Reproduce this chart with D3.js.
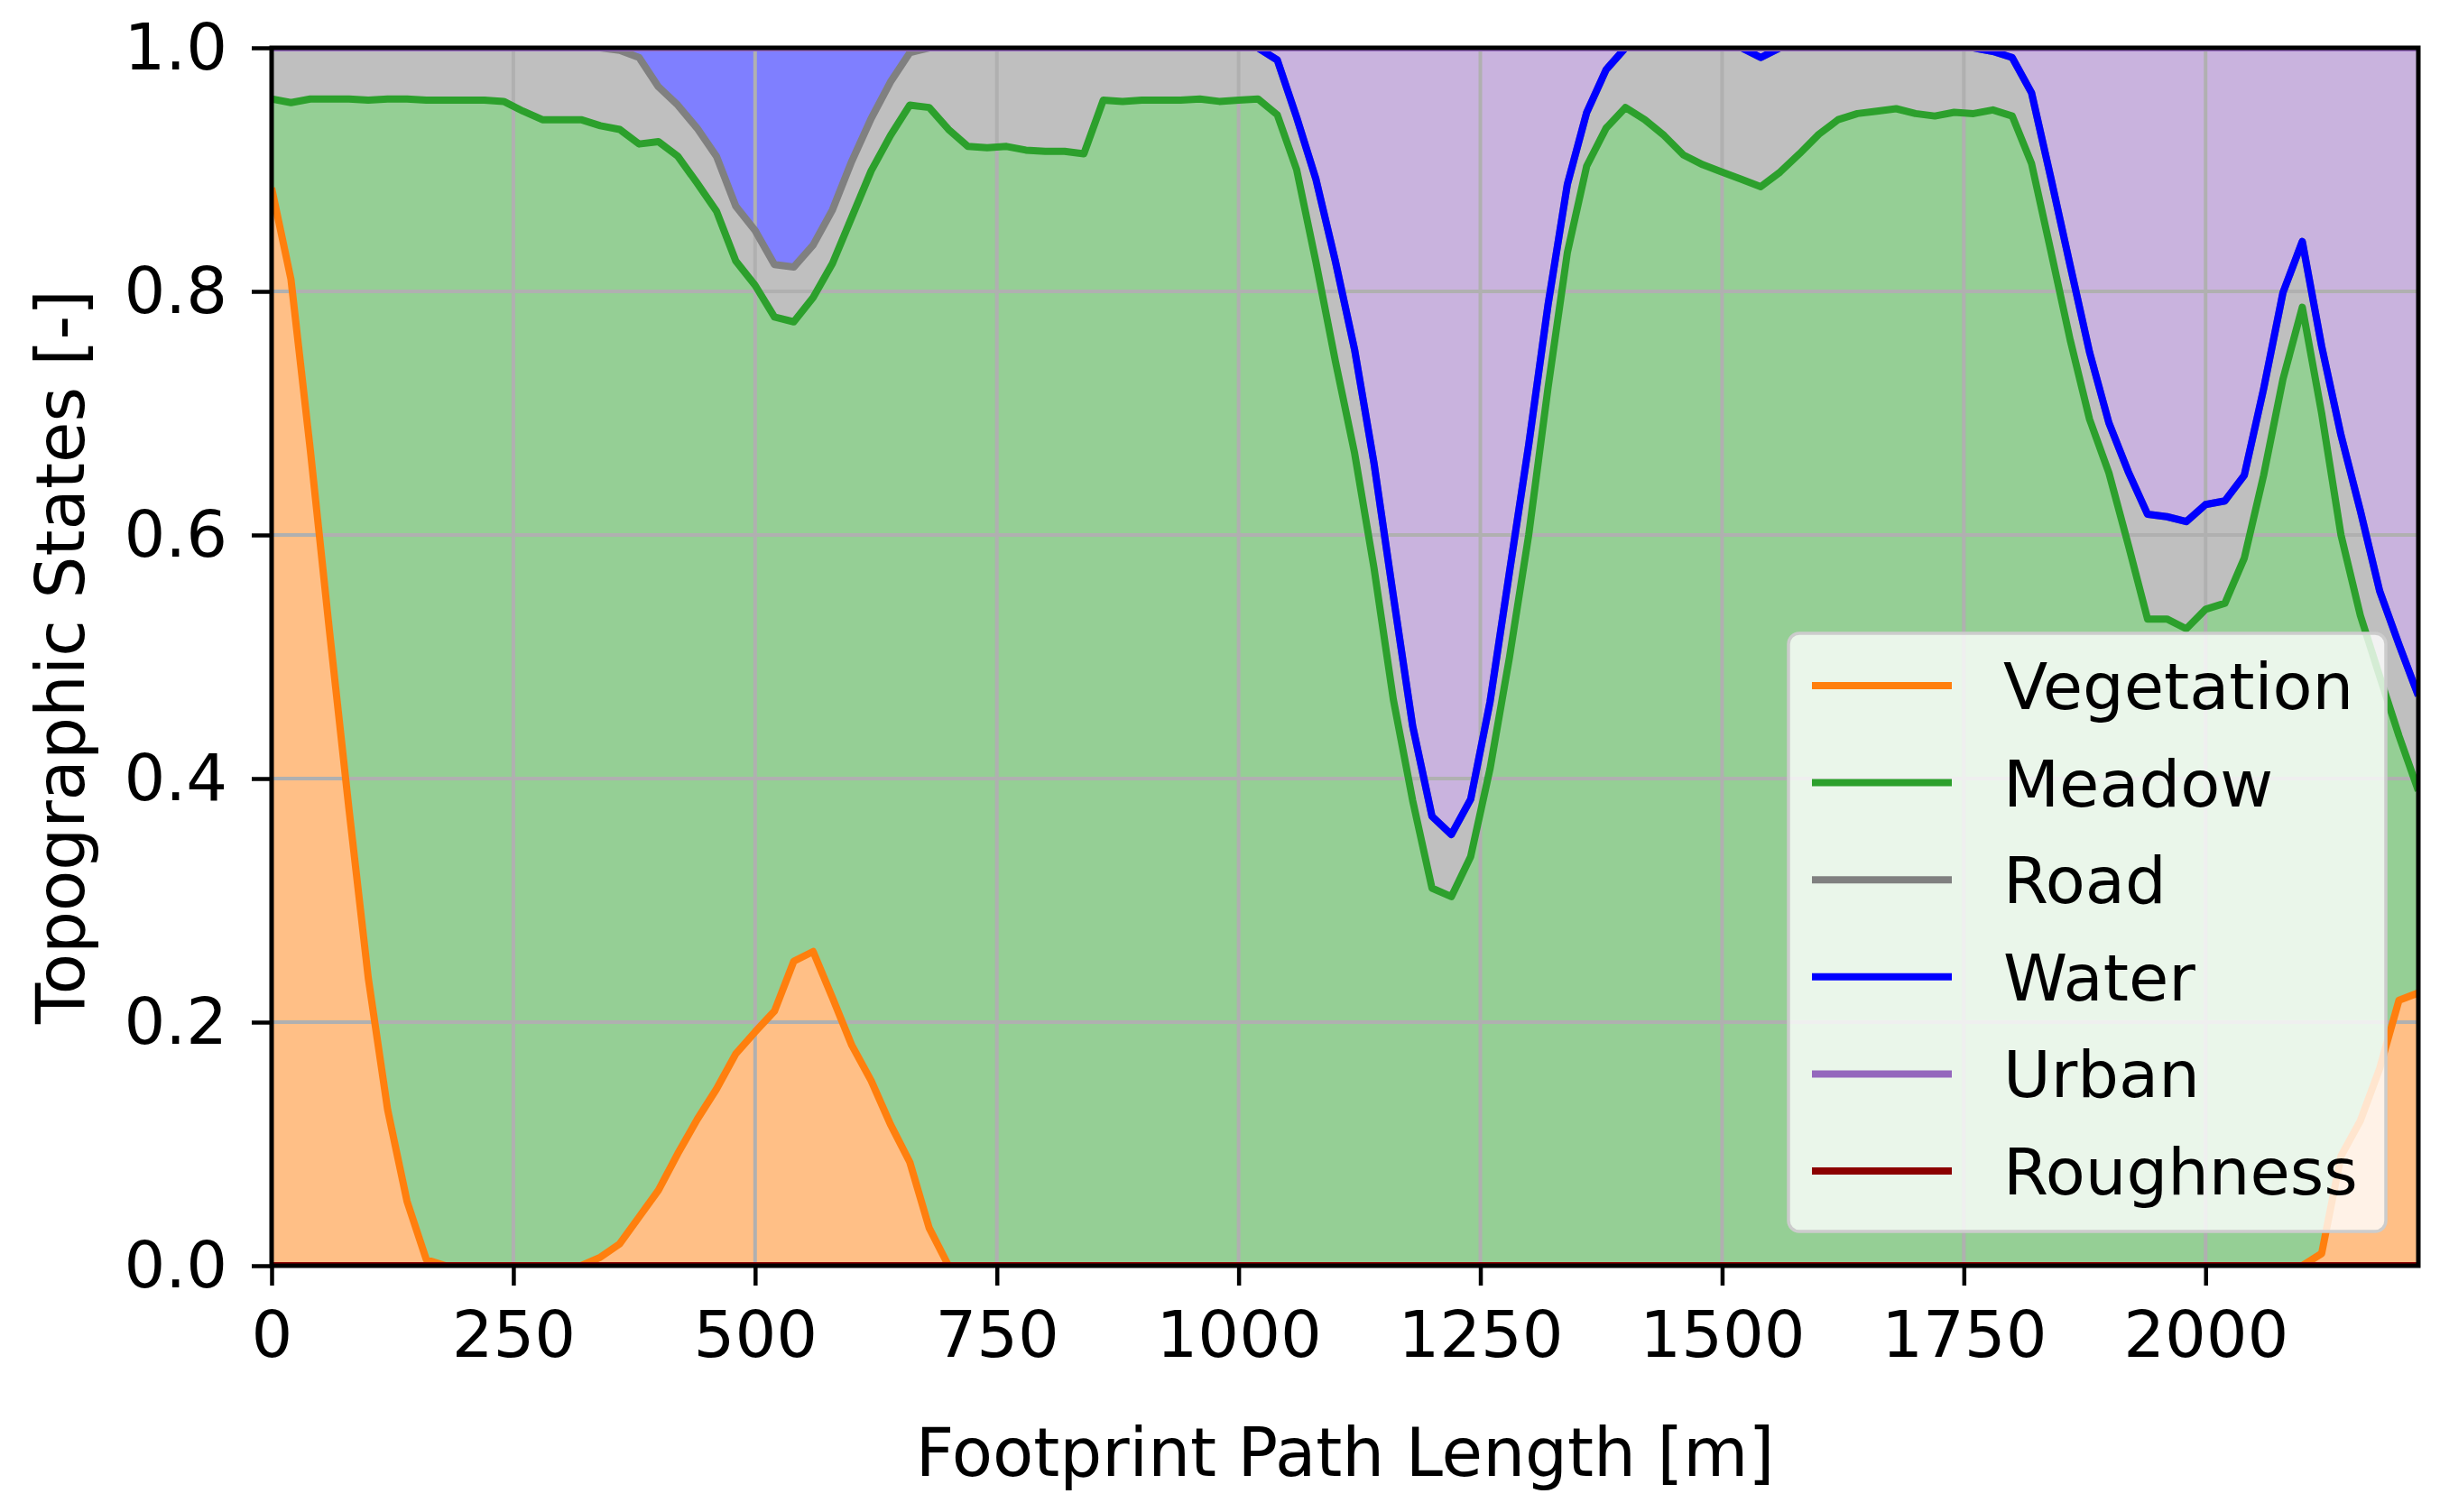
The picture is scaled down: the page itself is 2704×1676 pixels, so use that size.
<!DOCTYPE html>
<html lang="en">
<head>
<meta charset="UTF-8">
<title>Topographic States</title>
<script src="https://d3js.org/d3.v7.min.js"></script>
<style>
  body { margin: 0; background: #ffffff; }
  svg { display: block; font-family: "DejaVu Sans", sans-serif; }
</style>
</head>
<body>
<svg id="chart"></svg>
<script>
// distance along the footprint path [m]
var distance = [0, 20, 40, 60, 80, 100, 120, 140, 160, 180, 200, 220, 240, 260, 280, 300, 320, 340, 360, 380,
  400, 420, 440, 460, 480, 500, 520, 540, 560, 580, 600, 620, 640, 660, 680, 700, 720, 740, 760, 780,
  800, 820, 840, 860, 880, 900, 920, 940, 960, 980, 1000, 1020, 1040, 1060, 1080, 1100, 1120, 1140, 1160, 1180,
  1200, 1220, 1240, 1260, 1280, 1300, 1320, 1340, 1360, 1380, 1400, 1420, 1440, 1460, 1480, 1500, 1520, 1540, 1560, 1580,
  1600, 1620, 1640, 1660, 1680, 1700, 1720, 1740, 1760, 1780, 1800, 1820, 1840, 1860, 1880, 1900, 1920, 1940, 1960, 1980,
  2000, 2020, 2040, 2060, 2080, 2100, 2120, 2140, 2160, 2180, 2200, 2220];

// fraction of each topographic state (stacked in this order)
var roughness = [0, 0, 0, 0, 0, 0, 0, 0, 0, 0, 0, 0, 0, 0, 0, 0, 0, 0, 0, 0,
  0, 0, 0, 0, 0, 0, 0, 0, 0, 0, 0, 0, 0, 0, 0, 0, 0, 0, 0, 0,
  0, 0, 0, 0, 0, 0, 0, 0, 0, 0, 0, 0, 0, 0, 0, 0, 0, 0, 0, 0,
  0, 0, 0, 0, 0, 0, 0, 0, 0, 0, 0, 0, 0, 0, 0, 0, 0, 0, 0, 0,
  0, 0, 0, 0, 0, 0, 0, 0, 0, 0, 0, 0, 0, 0, 0, 0, 0, 0, 0, 0,
  0, 0, 0, 0, 0, 0, 0, 0, 0, 0, 0, 0];
var vegetation = [0.885, 0.810, 0.670, 0.520, 0.375, 0.236, 0.128, 0.053, 0.005, 0, 0, 0, 0, 0, 0, 0, 0, 0.007, 0.018, 0.040,
  0.062, 0.092, 0.120, 0.145, 0.174, 0.192, 0.209, 0.250, 0.258, 0.220, 0.181, 0.152, 0.116, 0.085, 0.031, 0, 0, 0, 0, 0,
  0, 0, 0, 0, 0, 0, 0, 0, 0, 0, 0, 0, 0, 0, 0, 0, 0, 0, 0, 0,
  0, 0, 0, 0, 0, 0, 0, 0, 0, 0, 0, 0, 0, 0, 0, 0, 0, 0, 0, 0,
  0, 0, 0, 0, 0, 0, 0, 0, 0, 0, 0, 0, 0, 0, 0, 0, 0, 0, 0, 0,
  0, 0, 0, 0, 0, 0, 0.010, 0.090, 0.119, 0.162, 0.218, 0.224];
var meadow = [0.073, 0.145, 0.288, 0.438, 0.583, 0.721, 0.830, 0.905, 0.952, 0.957, 0.957, 0.957, 0.956, 0.948, 0.941, 0.941, 0.941, 0.929, 0.915, 0.881,
  0.861, 0.819, 0.769, 0.721, 0.651, 0.613, 0.570, 0.525, 0.537, 0.603, 0.680, 0.747, 0.812, 0.868, 0.920, 0.933, 0.919, 0.918, 0.919, 0.916,
  0.915, 0.915, 0.913, 0.957, 0.956, 0.957, 0.957, 0.957, 0.958, 0.956, 0.957, 0.958, 0.945, 0.900, 0.824, 0.743, 0.667, 0.573, 0.465, 0.382,
  0.310, 0.303, 0.336, 0.408, 0.499, 0.600, 0.721, 0.832, 0.903, 0.934, 0.951, 0.941, 0.928, 0.912, 0.904, 0.898, 0.892, 0.886, 0.898, 0.913,
  0.929, 0.941, 0.946, 0.948, 0.950, 0.946, 0.944, 0.947, 0.946, 0.949, 0.944, 0.905, 0.833, 0.760, 0.695, 0.651, 0.592, 0.531, 0.531, 0.523,
  0.539, 0.544, 0.581, 0.649, 0.728, 0.787, 0.690, 0.510, 0.415, 0.322, 0.217, 0.166];
var road = [0.042, 0.045, 0.042, 0.042, 0.042, 0.043, 0.042, 0.042, 0.043, 0.043, 0.043, 0.043, 0.044, 0.052, 0.059, 0.059, 0.059, 0.064, 0.065, 0.071,
  0.045, 0.042, 0.045, 0.045, 0.045, 0.045, 0.043, 0.045, 0.043, 0.044, 0.046, 0.043, 0.044, 0.043, 0.049, 0.067, 0.081, 0.082, 0.081, 0.084,
  0.085, 0.085, 0.087, 0.043, 0.044, 0.043, 0.043, 0.043, 0.042, 0.044, 0.043, 0.042, 0.045, 0.043, 0.068, 0.082, 0.085, 0.086, 0.085, 0.061,
  0.059, 0.051, 0.047, 0.055, 0.070, 0.074, 0.068, 0.056, 0.044, 0.048, 0.049, 0.059, 0.072, 0.088, 0.096, 0.102, 0.108, 0.106, 0.102, 0.087,
  0.071, 0.059, 0.054, 0.052, 0.050, 0.054, 0.056, 0.053, 0.054, 0.048, 0.048, 0.058, 0.060, 0.061, 0.055, 0.041, 0.060, 0.086, 0.084, 0.088,
  0.086, 0.084, 0.068, 0.071, 0.071, 0.054, 0.055, 0.082, 0.086, 0.070, 0.075, 0.078];
var water = [0, 0, 0, 0, 0, 0, 0, 0, 0, 0, 0, 0, 0, 0, 0, 0, 0, 0, 0.002, 0.008,
  0.032, 0.047, 0.066, 0.089, 0.130, 0.150, 0.178, 0.180, 0.162, 0.133, 0.093, 0.058, 0.028, 0.004, 0, 0, 0, 0, 0, 0,
  0, 0, 0, 0, 0, 0, 0, 0, 0, 0, 0, 0, 0, 0, 0, 0, 0, 0, 0, 0,
  0, 0, 0, 0, 0, 0, 0, 0, 0, 0, 0, 0, 0, 0, 0, 0, 0, 0, 0, 0,
  0, 0, 0, 0, 0, 0, 0, 0, 0, 0, 0, 0, 0, 0, 0, 0, 0, 0, 0, 0,
  0, 0, 0, 0, 0, 0, 0, 0, 0, 0, 0, 0];
var urban = [0, 0, 0, 0, 0, 0, 0, 0, 0, 0, 0, 0, 0, 0, 0, 0, 0, 0, 0, 0,
  0, 0, 0, 0, 0, 0, 0, 0, 0, 0, 0, 0, 0, 0, 0, 0, 0, 0, 0, 0,
  0, 0, 0, 0, 0, 0, 0, 0, 0, 0, 0, 0, 0.010, 0.057, 0.108, 0.175, 0.248, 0.341, 0.450, 0.557,
  0.631, 0.646, 0.617, 0.537, 0.431, 0.326, 0.211, 0.112, 0.053, 0.018, 0, 0, 0, 0, 0, 0, 0, 0.008, 0, 0,
  0, 0, 0, 0, 0, 0, 0, 0, 0, 0.003, 0.008, 0.037, 0.107, 0.179, 0.250, 0.308, 0.348, 0.383, 0.385, 0.389,
  0.375, 0.372, 0.351, 0.280, 0.201, 0.159, 0.245, 0.318, 0.380, 0.446, 0.490, 0.532];

var xTicks = [0, 250, 500, 750, 1000, 1250, 1500, 1750, 2000];
var yTicks = [0, 0.2, 0.4, 0.6, 0.8, 1.0];

// series: key, legend label, line colour
var series = [
  {key: "vegetation", label: "Vegetation", color: "#ff7f0e"},
  {key: "meadow", label: "Meadow", color: "#2ca02c"},
  {key: "road", label: "Road", color: "#808080"},
  {key: "water", label: "Water", color: "#0000ff"},
  {key: "urban", label: "Urban", color: "#9467bd"},
  {key: "roughness", label: "Roughness", color: "#8b0000"}
];
var stackKeys = ["roughness", "vegetation", "meadow", "road", "water", "urban"];

var table = distance.map(function(d, i) {
  return {dist: d, roughness: roughness[i], vegetation: vegetation[i], meadow: meadow[i],
    road: road[i], water: water[i], urban: urban[i]};
});

var width = 2704, height = 1676;
var plotLeft = 301, plotRight = 2680, plotTop = 53, plotBottom = 1403;
var fontSize = 72;
var lineWidth = 8;

var svg = d3.select("#chart").attr("width", width).attr("height", height);
svg.append("rect").attr("width", width).attr("height", height).attr("fill", "#ffffff");

var x = d3.scaleLinear().domain([0, 2220]).range([plotLeft, plotRight]);
var y = d3.scaleLinear().domain([0, 1]).range([plotBottom, plotTop]);

svg.append("clipPath").attr("id", "plot-clip")
  .append("rect").attr("x", plotLeft).attr("y", plotTop)
  .attr("width", plotRight - plotLeft).attr("height", plotBottom - plotTop);

var stacked = d3.stack().keys(stackKeys)(table);
var colorOf = {};
series.forEach(function(s) { colorOf[s.key] = s.color; });

var area = d3.area()
  .x(function(d) { return x(d.data.dist); })
  .y0(function(d) { return y(d[0]); })
  .y1(function(d) { return y(d[1]); });
var line = d3.line()
  .x(function(d) { return x(d.data.dist); })
  .y(function(d) { return y(d[1]); });

var plot = svg.append("g").attr("clip-path", "url(#plot-clip)");

// filled layers (half transparent)
plot.selectAll(".layer").data(stacked).enter().append("path")
  .attr("class", "layer")
  .attr("d", area)
  .attr("fill", function(d) { return colorOf[d.key]; })
  .attr("fill-opacity", 0.5);

// grid on top of the fills
var grid = plot.append("g").attr("stroke", "#b0b0b0").attr("stroke-width", 4);
grid.selectAll(".gx").data(xTicks).enter().append("line")
  .attr("x1", function(d) { return x(d); }).attr("x2", function(d) { return x(d); })
  .attr("y1", plotTop).attr("y2", plotBottom);
grid.selectAll(".gy").data(yTicks).enter().append("line")
  .attr("y1", function(d) { return y(d); }).attr("y2", function(d) { return y(d); })
  .attr("x1", plotLeft).attr("x2", plotRight);

// top line of each layer, drawn in legend order
var byKey = {};
stacked.forEach(function(s) { byKey[s.key] = s; });
series.forEach(function(s) {
  plot.append("path")
    .datum(byKey[s.key])
    .attr("d", line)
    .attr("fill", "none")
    .attr("stroke", s.color)
    .attr("stroke-width", lineWidth)
    .attr("stroke-linejoin", "round");
});

// axes
var xAxis = svg.append("g").attr("transform", "translate(0," + plotBottom + ")")
  .call(d3.axisBottom(x).tickValues(xTicks).tickSize(22).tickPadding(28).tickFormat(d3.format("d")));
var yAxis = svg.append("g").attr("transform", "translate(" + plotLeft + ",0)")
  .call(d3.axisLeft(y).tickValues(yTicks).tickSize(22).tickPadding(27).tickFormat(d3.format(".1f")));
[xAxis, yAxis].forEach(function(a) {
  a.select(".domain").remove();
  a.selectAll(".tick line").attr("stroke", "#000").attr("stroke-width", 4.5);
  a.selectAll(".tick text").attr("font-size", fontSize).attr("fill", "#000")
    .attr("font-family", "DejaVu Sans");
});

// spines
svg.append("rect").attr("x", plotLeft).attr("y", plotTop)
  .attr("width", plotRight - plotLeft).attr("height", plotBottom - plotTop)
  .attr("fill", "none").attr("stroke", "#000").attr("stroke-width", 5);

// axis titles
svg.append("text").attr("x", (plotLeft + plotRight) / 2).attr("y", 1636)
  .attr("text-anchor", "middle").attr("font-size", 74)
  .text("Footprint Path Length [m]");
svg.append("text").attr("transform", "translate(93," + (plotTop + plotBottom) / 2 + ") rotate(-90)")
  .attr("text-anchor", "middle").attr("font-size", 74)
  .text("Topographic States [-]");

// legend
var legend = svg.append("g").attr("transform", "translate(1982,702)");
legend.append("rect").attr("width", 662).attr("height", 663).attr("rx", 12)
  .attr("fill", "#ffffff").attr("fill-opacity", 0.8)
  .attr("stroke", "#cccccc").attr("stroke-width", 3.5);
var rows = legend.selectAll(".row").data(series).enter().append("g")
  .attr("transform", function(d, i) { return "translate(0," + (58 + i * 107.6) + ")"; });
rows.append("line").attr("x1", 26).attr("x2", 181)
  .attr("stroke", function(d) { return d.color; }).attr("stroke-width", lineWidth);
rows.append("text").attr("x", 238).attr("y", 26).attr("font-size", fontSize)
  .text(function(d) { return d.label; });
</script>
</body>
</html>
